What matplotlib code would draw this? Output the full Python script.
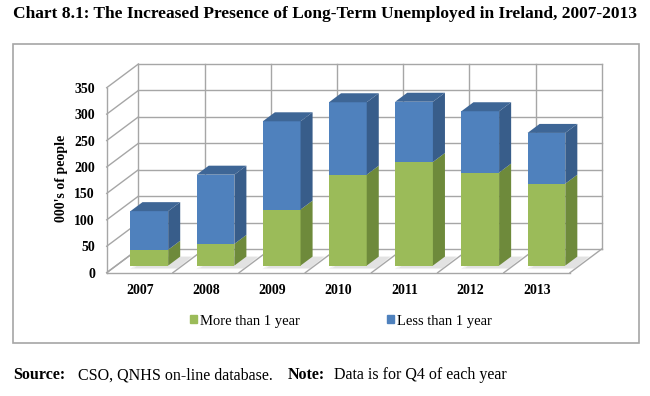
import matplotlib
matplotlib.use('Agg')
import matplotlib.pyplot as plt
from matplotlib.patches import Polygon, Patch, Rectangle
import numpy as np

plt.rcParams['font.family'] = 'Liberation Serif'

# data, in 000's of people (Q4 of each year)
years = ['2007', '2008', '2009', '2010', '2011', '2012', '2013']
more_than_1yr = [30, 41, 106, 172, 196, 176, 155]
less_than_1yr = [73, 131, 167, 137, 114, 116, 96]
yticks = [0, 50, 100, 150, 200, 250, 300, 350]

green = ('#9BBB59', '#6E8A3B')
blue = ('#4F81BD', '#385D8A', '#3E6696')
grid_c = '#A6A6A6'

W, H = 650, 396
fig = plt.figure(figsize=(W / 100, H / 100), dpi=100)
ax = fig.add_axes([106.7 / W, (H - 272.7) / H, 463.3 / W, 185 / H])
ax.set_xlim(0, len(years))
ax.set_ylim(0, 350)

# fake 3d: depth offset of the back wall in data units
DX, DY = 0.479, 44.8
d0, d1 = 0.30, 0.68   # bar front / back depth
w = 0.57

def line(p, q):
    ax.plot([p[0], q[0]], [p[1], q[1]], color=grid_c, lw=1.0, clip_on=False, zorder=1)

n = len(years)
# walls
for v in yticks:
    line((0, v), (DX, v + DY))
    line((DX, v + DY), (n + DX, v + DY))
for i in range(n + 1):
    line((i + DX, DY), (i + DX, 350 + DY))
    line((i, 0), (i + DX, DY))
line((0, 0), (0, 350))
line((0, 0), (n, 0))

# bars
xc = np.arange(n) + 0.5 + d0 * DX
base = np.full(n, d0 * DY)
dd = d1 - d0

# soft shadow on the floor
for i in range(n):
    for k, a in [(0.10, 0.25), (0.06, 0.35)]:
        x0 = xc[i] - w / 2 - k
        x1 = xc[i] + w / 2 + k * 0.5
        ax.add_patch(Polygon([(x0 + (d0 - k) * DX, (d0 - k) * DY - 2),
                              (x1 + (d0 - k) * DX, (d0 - k) * DY - 2),
                              (x1 + d1 * DX, d1 * DY), (x0 + d1 * DX, d1 * DY)],
                             closed=True, fc='#C8C8C8', alpha=a, ec='none', zorder=2,
                             clip_on=False))

ax.bar(xc, more_than_1yr, width=w, bottom=base, color=green[0], zorder=3, clip_on=False)
ax.bar(xc, less_than_1yr, width=w, bottom=base + more_than_1yr, color=blue[0], zorder=3,
       clip_on=False)

for i in range(n):
    x0 = xc[i] - w / 2
    x1 = xc[i] + w / 2
    b = base[i]
    t1 = b + more_than_1yr[i]
    t2 = t1 + less_than_1yr[i]
    for lo, hi, col in [(b, t1, green[1]), (t1, t2, blue[1])]:
        ax.add_patch(Polygon([(x1, lo), (x1 + dd * DX, lo + dd * DY),
                              (x1 + dd * DX, hi + dd * DY), (x1, hi)],
                             closed=True, fc=col, ec='none', zorder=3, clip_on=False))
    ax.add_patch(Polygon([(x0, t2), (x1, t2), (x1 + dd * DX, t2 + dd * DY),
                          (x0 + dd * DX, t2 + dd * DY)],
                         closed=True, fc=blue[2], ec='none', zorder=3, clip_on=False))

for s in ax.spines.values():
    s.set_visible(False)
ax.patch.set_visible(False)
ax.set_yticks(yticks)
ax.set_yticklabels([str(v) for v in yticks], fontsize=10, fontweight='bold')
ax.set_xticks(np.arange(n) + 0.5)
ax.set_xticklabels(years, fontsize=10, fontweight='bold')
ax.tick_params(axis='y', length=0, pad=8.4)
ax.tick_params(axis='x', length=0, pad=8)

fig.text(61.7 / W, 1 - 178 / H, "000's of people", rotation=90, fontsize=10,
         fontweight='bold', ha='center', va='center')

fig.legend(handles=[Patch(color=green[0]), Patch(color=blue[0])],
           labels=['More than 1 year', 'Less than 1 year'],
           loc='center left', bbox_to_anchor=(190 / W, 1 - 321 / H), ncol=2,
           frameon=False, handlelength=0.48, handleheight=0.48, handletextpad=0.2,
           columnspacing=6.0, borderpad=0, borderaxespad=0, prop={'size': 10.5})

fig.patches.append(Rectangle((13.3 / W, 1 - 342.7 / H), (639 - 13.3) / W, (342.7 - 44) / H,
                             transform=fig.transFigure, fill=False, ec=grid_c, lw=1.2))

fig.text(13 / W, 1 - 13.5 / H,
         'Chart 8.1: The Increased Presence of Long-Term Unemployed in Ireland, 2007-2013',
         fontsize=12.5, fontweight='bold', ha='left', va='center')

fig.text(13 / W, 1 - 375 / H, 'Source:', fontsize=11.5, fontweight='bold', va='center')
fig.text(78 / W, 1 - 375 / H, 'CSO, QNHS on-line database.', fontsize=11.5, va='center')
fig.text(288 / W, 1 - 375 / H, 'Note:', fontsize=11.5, fontweight='bold', va='center')
fig.text(334 / W, 1 - 375 / H, 'Data is for Q4 of each year', fontsize=11.5, va='center')

fig.savefig('out.png', dpi=100)
